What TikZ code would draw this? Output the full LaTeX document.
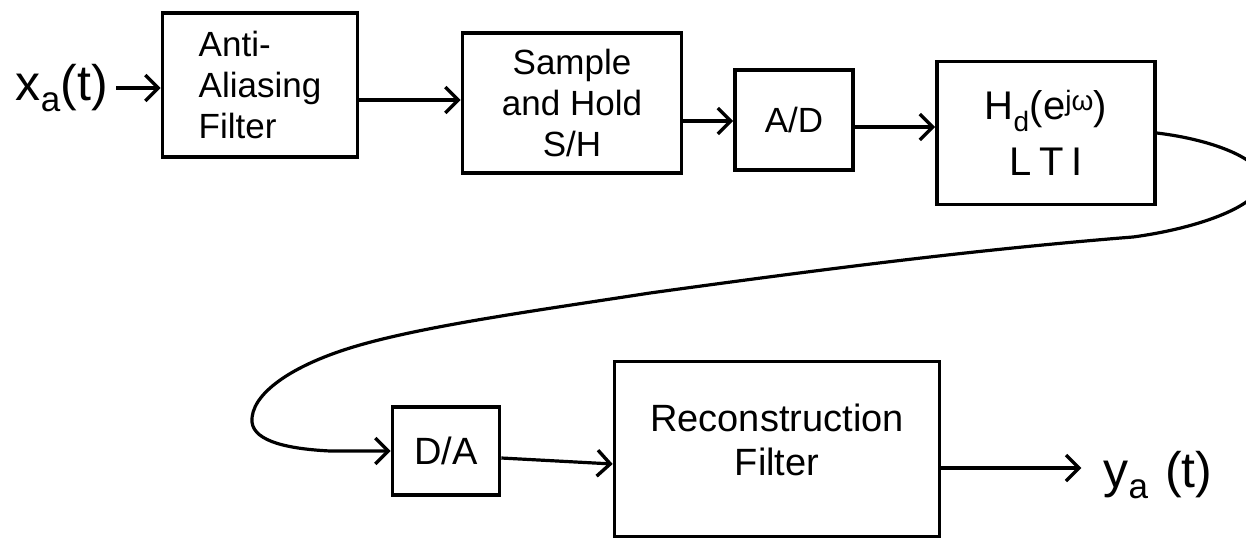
\documentclass[tikz,border=0pt]{standalone}
\usepackage{fontspec}
\setmainfont{Liberation Sans}
\usetikzlibrary{arrows.meta}
\begin{document}
\begin{tikzpicture}[x=1pt,y=-1pt,
  blk/.style={draw, line width=3.6pt, inner sep=0pt, align=center, font=\fontsize{35}{41}\selectfont},
  arr/.style={line width=3.2pt, -{Straight Barb[length=13pt,width=26pt,line width=3.4pt]}},
  lbl/.style={inner sep=0pt, font=\fontsize{50}{56}\selectfont}]
\useasboundingbox (0,0) rectangle (1246,540);
\clip (0,0) rectangle (1246,540);
% input / output labels
\node[lbl] (xa) at (62,88) {x\textsubscript{a}(t)};
\node[lbl] (ya) at (1158,475) {y\textsubscript{a}\,\,(t)};
% blocks
\node[blk, minimum width=195pt, minimum height=144pt, align=left] (aa) at (260,85) {Anti-\\Aliasing\\Filter};
\node[blk, minimum width=219pt, minimum height=140pt] (sh) at (572,103) {Sample\\and Hold\\S/H};
\node[blk, minimum width=118pt, minimum height=100pt] (ad) at (794,120) {A/D};
\node[blk, minimum width=218pt, minimum height=143pt, font=\fontsize{40}{56}\selectfont] (hd) at (1046,133) {H\textsubscript{d}(e\textsuperscript{jω})\\L\hspace{8pt}T\hspace{8pt}I};
\node[blk, minimum width=107pt, minimum height=88pt, font=\fontsize{38}{44}\selectfont] (da) at (446,451) {D/A};
\node[blk, minimum width=325pt, minimum height=175pt] (rf) at (777,449) {};
\node[inner sep=0pt, align=center, font=\fontsize{38}{44}\selectfont, yshift=9pt] (rft) at (rf.center) {Reconstruction\\Filter};
% connectors
\draw[arr] ([xshift=8pt]xa.east) -- (aa.west |- xa.east);
\draw[arr] (aa.east |- 0,100) -- (sh.west |- 0,100);
\draw[arr] (sh.east |- 0,121) -- (ad.west |- 0,121);
\draw[arr] (ad.east |- 0,127) -- (hd.west |- 0,127);
\draw[arr] (hd.east) .. controls (1215,140) and (1262,160) .. (1262,180)
  .. controls (1262,205) and (1200,228) .. (1133,237)
  .. controls (970,250) and (810,271) .. (650,293)
  .. controls (540,310) and (430,325) .. (360,345)
  .. controls (290,365) and (250,395) .. (252,422)
  .. controls (254,442) and (290,449) .. (330,451)
  -- (da.west);
\draw[arr] (da.east |- 0,458) -- (rf.west |- 0,464);
\draw[arr] (rf.east |- 0,468) -- ([xshift=-22pt]ya.west |- 0,468);
\end{tikzpicture}
\end{document}
